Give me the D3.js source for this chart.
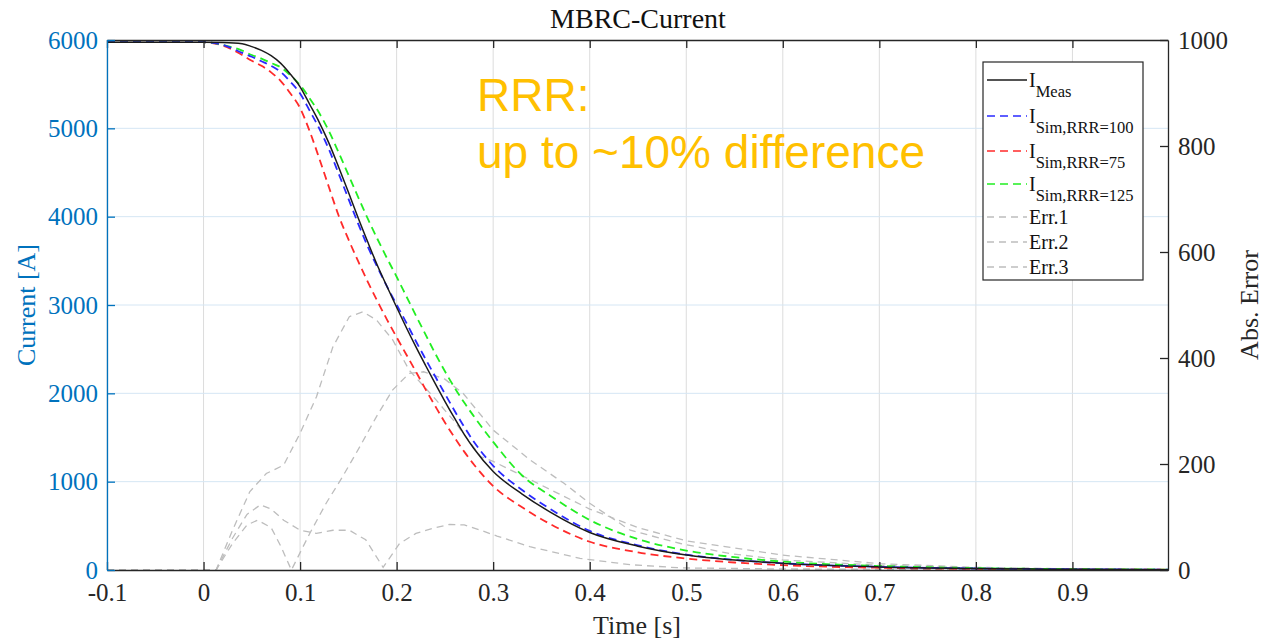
<!DOCTYPE html>
<html>
<head>
<meta charset="utf-8">
<script src="https://cdn.jsdelivr.net/npm/d3@7"></script>
<style>
  body { margin: 0; background: #fff; overflow: hidden; }
  svg { display: block; }
</style>
</head>
<body>
<div class="graph"></div>
<script>
// time base of the current traces [s]
const timeI = [-0.1, 0, 0.02, 0.04, 0.05, 0.06, 0.07, 0.08, 0.09, 0.1, 0.11, 0.12, 0.13, 0.14, 0.15,
               0.16, 0.17, 0.18, 0.19, 0.2, 0.21, 0.22, 0.23, 0.24, 0.25, 0.26, 0.27, 0.28, 0.3,
               0.33, 0.36, 0.4, 0.45, 0.5, 0.55, 0.6, 0.7, 0.8, 0.9, 1.0];
const iMeas   = [5975, 5975, 5972, 5958, 5925, 5882, 5822, 5735, 5612, 5470, 5270, 5065, 4830, 4560, 4280,
                 3990, 3715, 3450, 3210, 2975, 2745, 2525, 2315, 2110, 1910, 1718, 1535, 1375, 1115,
                 860, 650, 425, 270, 170, 112, 75, 35, 17, 8, 4];
const iSim100 = [5975, 5975, 5945, 5855, 5810, 5760, 5707, 5638, 5527, 5395, 5198, 4995, 4758, 4485, 4205,
                 3925, 3665, 3430, 3210, 3005, 2800, 2590, 2388, 2190, 1995, 1803, 1620, 1452, 1180,
                 905, 685, 443, 279, 174, 114, 76, 36, 17, 8, 4];
const iSim75  = [5975, 5975, 5935, 5830, 5765, 5708, 5633, 5535, 5395, 5230, 4965, 4655, 4330, 4010, 3745,
                 3500, 3265, 3045, 2835, 2635, 2440, 2245, 2045, 1855, 1670, 1500, 1340, 1195, 950,
                 710, 515, 320, 200, 130, 85, 55, 25, 12, 6, 3];
const iSim125 = [5975, 5975, 5945, 5880, 5830, 5790, 5740, 5690, 5600, 5490, 5339, 5170, 4965, 4725, 4475,
                 4225, 3980, 3750, 3530, 3320, 3100, 2880, 2665, 2450, 2250, 2065, 1895, 1740, 1450,
                 1070, 835, 566, 350, 220, 145, 95, 45, 21, 10, 5];

// absolute errors (right axis)
const tErr1 = [-0.1, 0, 0.013, 0.03, 0.045, 0.059, 0.07, 0.083, 0.1, 0.117, 0.134, 0.151, 0.168, 0.186,
               0.203, 0.22, 0.238, 0.255, 0.27, 0.287, 0.304, 0.338, 0.39, 0.442, 0.494, 0.6, 0.8, 1.0];
const err1  = [0, 0, 0, 60, 105, 123, 115, 94, 75, 69, 75, 75, 57, 5,
               50, 69, 79, 86, 85, 75, 64, 44, 22, 10, 4, 2, 1, 0];
const tErr2 = [-0.1, 0, 0.013, 0.03, 0.048, 0.065, 0.083, 0.1, 0.117, 0.134, 0.151, 0.165, 0.179, 0.196,
               0.213, 0.238, 0.26, 0.287, 0.3, 0.35, 0.4, 0.45, 0.5, 0.6, 0.7, 0.8, 0.9, 1.0];
const err2  = [0, 0, 0, 75, 148, 182, 198, 258, 327, 421, 478, 487, 472, 434,
               377, 327, 280, 214, 205, 160, 115, 80, 55, 28, 12, 5, 2, 1];
const tErr3 = [-0.1, 0, 0.013, 0.03, 0.045, 0.056, 0.07, 0.08, 0.091, 0.11, 0.127, 0.144, 0.162, 0.179,
               0.196, 0.213, 0.228, 0.25, 0.269, 0.3, 0.338, 0.373, 0.4, 0.442, 0.494, 0.545, 0.6, 0.7,
               0.8, 0.9, 1.0];
const err3  = [0, 0, 0, 50, 85, 94, 80, 45, 0, 69, 126, 176, 233, 289,
               340, 371, 374, 360, 333, 264, 208, 164, 126, 75, 50, 31, 19, 9,
               4, 2, 1];

const xTicks = [-0.1, 0, 0.1, 0.2, 0.3, 0.4, 0.5, 0.6, 0.7, 0.8, 0.9];
const yLeftTicks = [0, 1000, 2000, 3000, 4000, 5000, 6000];
const yRightTicks = [0, 200, 400, 600, 800, 1000];

const width = 1266;
const height = 643;
const margin = {top: 40, right: 98, bottom: 73, left: 107};
const innerWidth = width - margin.left - margin.right;
const innerHeight = height - margin.top - margin.bottom;
const serif = '"Liberation Serif", "Times New Roman", serif';
const blueAx = '#0072BD';
const darkAx = '#262626';

const svg = d3.select('.graph').append('svg')
  .attr('width', width)
  .attr('height', height);

const chart = svg.append('g')
  .attr('transform', `translate(${margin.left}, ${margin.top})`);

const xScale = d3.scaleLinear().domain([-0.1, 0.999]).range([0, innerWidth]);
const yLeft = d3.scaleLinear().domain([0, 6000]).range([innerHeight, 0]);
const yRight = d3.scaleLinear().domain([0, 1000]).range([innerHeight, 0]);

// grid
chart.append('g').selectAll('line')
  .data(xTicks).join('line')
  .attr('x1', d => xScale(d)).attr('x2', d => xScale(d))
  .attr('y1', 0).attr('y2', innerHeight)
  .attr('stroke', '#dcdcdc').attr('stroke-width', 1);
chart.append('g').selectAll('line')
  .data(yLeftTicks.slice(1, -1)).join('line')
  .attr('x1', 0).attr('x2', innerWidth)
  .attr('y1', d => yLeft(d)).attr('y2', d => yLeft(d))
  .attr('stroke', '#d5e6f4').attr('stroke-width', 1);

// error curves (grey, right axis)
const lineErr = (tt) => d3.line()
  .x((d, i) => xScale(tt[i]))
  .y(d => yRight(d));

[[tErr1, err1], [tErr2, err2], [tErr3, err3]].forEach(([tt, vv]) => {
  chart.append('path')
    .attr('d', lineErr(tt)(vv))
    .attr('fill', 'none')
    .attr('stroke', '#bdbdbd')
    .attr('stroke-width', 1.3)
    .attr('stroke-dasharray', '7,5');
});

// current curves (left axis)
const lineI = d3.line()
  .x((d, i) => xScale(timeI[i]))
  .y(d => yLeft(d))
  .curve(d3.curveMonotoneX);

const series = [
  {vals: iSim75,  color: '#ff2a2a', dash: '8,5'},
  {vals: iSim125, color: '#22ee22', dash: '8,5'},
  {vals: iSim100, color: '#2a2aff', dash: '8,5'},
  {vals: iMeas,   color: '#1a1a1a', dash: null}
];
series.forEach(s => {
  chart.append('path')
    .attr('d', lineI(s.vals))
    .attr('fill', 'none')
    .attr('stroke', s.color)
    .attr('stroke-width', s.dash ? 1.8 : 1.5)
    .attr('stroke-dasharray', s.dash);
});

// axes
const fmtX = d => String(+d.toFixed(1));

const xAxis = chart.append('g')
  .attr('transform', `translate(0, ${innerHeight})`)
  .call(d3.axisBottom(xScale).tickValues(xTicks).tickFormat(fmtX).tickSize(-8).tickPadding(13).tickSizeOuter(0));
const xTop = chart.append('g')
  .call(d3.axisTop(xScale).tickValues(xTicks).tickSize(-8).tickSizeOuter(0));
xTop.selectAll('text').remove();
const yAxisL = chart.append('g')
  .call(d3.axisLeft(yLeft).tickValues(yLeftTicks).tickFormat(d3.format('d')).tickSize(-8).tickPadding(9).tickSizeOuter(0));
const yAxisR = chart.append('g')
  .attr('transform', `translate(${innerWidth}, 0)`)
  .call(d3.axisRight(yRight).tickValues(yRightTicks).tickFormat(d3.format('d')).tickSize(-8).tickPadding(10).tickSizeOuter(0));

[xAxis, xTop, yAxisR].forEach(a => {
  a.selectAll('path, line').attr('stroke', darkAx).attr('stroke-width', 1.3);
  a.selectAll('text').attr('fill', darkAx);
});
yAxisL.selectAll('path, line').attr('stroke', blueAx).attr('stroke-width', 1.3);
yAxisL.selectAll('text').attr('fill', blueAx);
chart.selectAll('.tick text')
  .style('font-family', serif)
  .style('font-size', '25px');
xAxis.selectAll('text').attr('dy', '0.7em');

// titles
svg.append('text')
  .attr('x', 638).attr('y', 28)
  .attr('text-anchor', 'middle')
  .style('font-family', serif).style('font-size', '28px')
  .attr('fill', '#111')
  .text('MBRC-Current');

svg.append('text')
  .attr('x', 637).attr('y', 634)
  .attr('text-anchor', 'middle')
  .style('font-family', serif).style('font-size', '26px')
  .attr('fill', darkAx)
  .text('Time [s]');

svg.append('text')
  .attr('transform', `translate(35, ${margin.top + innerHeight / 2}) rotate(-90)`)
  .attr('text-anchor', 'middle')
  .style('font-family', serif).style('font-size', '26px')
  .attr('fill', blueAx)
  .text('Current [A]');

svg.append('text')
  .attr('transform', `translate(1258, ${margin.top + innerHeight / 2}) rotate(-90)`)
  .attr('text-anchor', 'middle')
  .style('font-family', serif).style('font-size', '26px')
  .attr('fill', darkAx)
  .text('Abs. Error');

// annotation
const note = svg.append('text')
  .style('font-family', '"Liberation Sans", Arial, sans-serif')
  .style('font-size', '46px')
  .attr('fill', '#FFC000');
note.append('tspan').attr('x', 477).attr('y', 111).text('RRR:');
note.append('tspan').attr('x', 477).attr('y', 168).text('up to ~10% difference');

// legend
const legend = svg.append('g');
legend.append('rect')
  .attr('x', 983).attr('y', 62).attr('width', 160).attr('height', 218)
  .attr('fill', '#fff').attr('stroke', darkAx).attr('stroke-width', 1.2);

const legendRows = [
  {main: 'I', sub: 'Meas',          color: '#1a1a1a', dash: null,  y: 80},
  {main: 'I', sub: 'Sim,RRR=100',   color: '#2a2aff', dash: '8,5', y: 116},
  {main: 'I', sub: 'Sim,RRR=75',    color: '#ff2a2a', dash: '8,5', y: 151},
  {main: 'I', sub: 'Sim,RRR=125',   color: '#22ee22', dash: '8,5', y: 184},
  {main: 'Err.1', sub: null,        color: '#bdbdbd', dash: '7,5', y: 217},
  {main: 'Err.2', sub: null,        color: '#bdbdbd', dash: '7,5', y: 242},
  {main: 'Err.3', sub: null,        color: '#bdbdbd', dash: '7,5', y: 267}
];
legendRows.forEach(r => {
  legend.append('line')
    .attr('x1', 987).attr('x2', 1027).attr('y1', r.y).attr('y2', r.y)
    .attr('stroke', r.color).attr('stroke-width', r.dash ? 1.6 : 1.5)
    .attr('stroke-dasharray', r.dash);
  const t = legend.append('text')
    .attr('x', 1029).attr('y', r.y + 7)
    .style('font-family', serif).style('font-size', '20px')
    .attr('fill', '#111');
  t.append('tspan').text(r.main);
  if (r.sub) {
    t.append('tspan').attr('dy', 10).style('font-size', '16.5px').text(r.sub);
  }
});
</script>
</body>
</html>
